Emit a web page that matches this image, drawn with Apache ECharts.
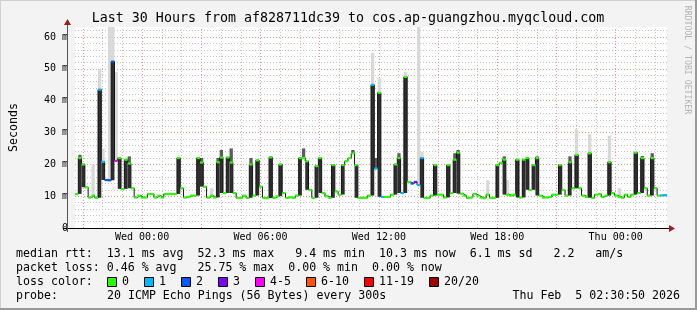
<!DOCTYPE html>
<html><head><meta charset="utf-8">
<script src="https://cdn.jsdelivr.net/npm/echarts@6/dist/echarts.min.js"></script>
<style>html,body{margin:0;padding:0;background:#f3f3f3}#c{width:697px;height:310px}</style>
</head><body><div id="c"></div>
<script>
// ---- data (10-minute samples starting Tue 20:36) ----
const STEP_MIN = 10;
const median = [
 10.7, 22, 20, 12.8, 9.6, 10.2, 9.5, 43.5, 20.8, 15.1, 15.0, 52.3, 21.1, 22, 12.3, 21.5, 20.3, 12.5, 9.6, 10.2, 9.6, 9.6, 10.7, 10.7, 9.6, 10.2, 9.6, 10.7, 10.7, 10.7,
 10.7, 22, 12.5, 9.6, 9.8, 10.2, 10.2, 22, 20.6, 13, 9.6, 10.2, 9.6, 20.7, 22.2, 11, 22.2, 20.6, 11, 9.5, 9.5, 10.2, 9.5, 20, 10.2, 21.3, 13, 9.5, 9.4, 22.2,
 9.5, 10, 20, 11, 9.5, 9.7, 9.5, 10.2, 22, 22, 21, 12, 9.5, 19.5, 22, 11, 10, 9.5, 19.8, 11.5, 10.5, 19.8, 21, 22, 23.5, 19.8, 9.5, 9.5, 9.5, 10.2,
 45, 18.7, 42.5, 9.8, 9.8, 9.8, 10.5, 20, 22, 11, 47.5, 14.5, 14, 14.5, 13.5, 22, 9.5, 9.5, 10.2, 19.8, 10.5, 10.5, 9.6, 19.8, 11, 21.5, 23.7, 10.8, 10.2, 9.5,
 9.6, 10.7, 10.2, 9.6, 9.4, 10.5, 9.5, 9.5, 19.8, 20.5, 21.5, 10.5, 10.2, 10.5, 21.5, 9.6, 21.5, 22, 12, 19.8, 22, 10.2, 9.6, 9.6, 9.8, 10.5, 10.5, 19.8, 12, 10.2,
 20.7, 12.5, 23, 12.5, 10.2, 9.8, 23.5, 9.5, 10.5, 10.7, 9.8, 10.2, 20.7, 11, 10.2, 9.8, 9.5, 10.5, 9.8, 10.5, 23.7, 11, 22, 12.5, 10.2, 22, 12.5, 10.2, 10.3, 10.3
];
// [sample index, lost pings out of 20]
const lossEvents = [[7,1],[8,1],[9,2],[10,2],[11,2],[12,5],[90,1],[91,1],[93,1],[99,1],[102,2],[103,3],[104,1],[105,1],[178,1],[179,1]];
// smoke: [sample index, highest rtt] - sparse outliers and dense spread
const smokeOutliers = [[5,20],[7,50],[8,25],[10,63.5],[11,63.5],[12,49],[41,12.5],[90,55],[92,47],[100,49],[104,63.5],[105,24],[125,15],[131,15],[152,31],[156,29.5],[162,29],[165,12.5]];
const smokeDense = [[1,23],[16,22.5],[38,22],[43,22],[44,24.5],[47,25],[53,22],[59,22.5],[69,25],[84,24.5],[91,22],[98,23.5],[115,23.5],[116,24.5],[130,22.5],[140,22.5],[150,22.5],[172,22.6],[175,23.5]];
const xTickMinutes = [204, 564, 924, 1284, 1644];
const xTickLabels = ['Wed 00:00', 'Wed 06:00', 'Wed 12:00', 'Wed 18:00', 'Thu 00:00'];
const lossLegend = ['0', '1', '2', '3', '4-5', '6-10', '11-19', '20/20'];
const lossColors = ['#26ff00', '#00b8ff', '#0059ff', '#7e00ff', '#ff00ff', '#ff5500', '#ff0000', '#a10000'];
const titleText = 'Last 30 Hours from af828711dc39 to cos.ap-guangzhou.myqcloud.com';
const statLines = [
  'median rtt:  13.1 ms avg  52.3 ms max   9.4 ms min  10.3 ms now  6.1 ms sd   2.2   am/s',
  'packet loss: 0.46 % avg   25.75 % max  0.00 % min  0.00 % now'
];
const probeText = '20 ICMP Echo Pings (56 Bytes) every 300s';
const dateText = 'Thu Feb  5 02:30:50 2026';

// ---- layout ----
const G = {left: 67, top: 27, right: 30, bottom: 82};
const W = 697, H = 310;
const Y_MAX = 63.15;
const X_MAX = median.length * STEP_MIN;
const MONO = '"DejaVu Sans Mono", monospace';

const N = median.length;
const t0 = i => i * STEP_MIN;
const lossByStep = new Array(N).fill(0);
lossEvents.forEach(([i, c]) => { lossByStep[i] = c; });
function bucket(c) { if (c === 0) return 0; if (c <= 3) return c; if (c <= 5) return 4; if (c <= 10) return 5; if (c < 20) return 6; return 7; }

const smokeData = [];
smokeOutliers.forEach(([i, top]) => smokeData.push([t0(i), t0(i + 1), median[i], Math.min(top, Y_MAX), 0]));
smokeDense.forEach(([i, top]) => smokeData.push([t0(i), t0(i + 1), median[i], Math.min(top, Y_MAX), 1]));
// spread of pings inside a sample where rtt jumps (drawn as dark smoke below the median)
median.forEach((v, i) => {
  const lo = Math.min(i > 0 ? median[i - 1] : v, i < N - 1 ? median[i + 1] : v);
  if (v - lo > 5) smokeData.push([t0(i), t0(i + 1), lo, v, 2]);
});

const segData = median.map((v, i) => [t0(i), t0(i + 1), v, bucket(lossByStep[i])]);
const lineData = median.map((v, i) => [t0(i), v]);
lineData.push([X_MAX, median[N - 1]]);

const gridMarks = [];
for (let m = 24; m < X_MAX; m += 60) {
  gridMarks.push({xAxis: m, lineStyle: {color: (m - 24) % 180 === 0 ? '#e39a9a' : '#c4c4c4', type: [1, 2], width: 1}});
}
for (let v = 2; v < Y_MAX; v += 2) {
  gridMarks.push({yAxis: v, lineStyle: {color: v % 10 === 0 ? '#e39a9a' : '#c4c4c4', type: [1, 2], width: 1}});
}

const graphics = [];
graphics.push({type: 'rect', shape: {x: 0, y: 0, width: W, height: 1}, style: {fill: '#d0d0d0'}});
graphics.push({type: 'rect', shape: {x: 0, y: 0, width: 1, height: H}, style: {fill: '#d0d0d0'}});
graphics.push({type: 'rect', shape: {x: 0, y: H - 2, width: W, height: 2}, style: {fill: '#9a9a9a'}});
graphics.push({type: 'rect', shape: {x: W - 2, y: 0, width: 2, height: H}, style: {fill: '#9a9a9a'}});
graphics.push({type: 'text', x: 348, y: 19, style: {text: titleText, font: '13.3px ' + MONO, fill: '#000', align: 'center', verticalAlign: 'middle'}});
graphics.push({type: 'text', x: 687, y: 60, rotation: -Math.PI / 2, style: {text: 'RRDTOOL / TOBI OETIKER', font: '8.2px ' + MONO, fill: '#b4b4b4', align: 'center', verticalAlign: 'middle'}});
const axY = H - G.bottom;
graphics.push({type: 'line', shape: {x1: G.left - 4, y1: axY + 0.5, x2: W - G.right + 3, y2: axY + 0.5}, style: {stroke: '#000', lineWidth: 1}, z: 10});
graphics.push({type: 'line', shape: {x1: G.left + 0.5, y1: axY + 4, x2: G.left + 0.5, y2: G.top - 6}, style: {stroke: '#555', lineWidth: 1}, z: 10});
graphics.push({type: 'polygon', shape: {points: [[W - G.right + 2, axY - 3], [W - G.right + 8, axY + 0.5], [W - G.right + 2, axY + 4]]}, style: {fill: '#9b1c1c'}, z: 10});
graphics.push({type: 'polygon', shape: {points: [[G.left - 3, G.top - 2], [G.left + 0.5, G.top - 8], [G.left + 4, G.top - 2]]}, style: {fill: '#9b1c1c'}, z: 10});
const LX = 16, LY = [254, 268, 282, 296];
statLines.forEach((s, k) => graphics.push({type: 'text', x: LX, y: LY[k], style: {text: s, font: '11.6px ' + MONO, fill: '#000', verticalAlign: 'middle'}}));
graphics.push({type: 'text', x: LX, y: LY[2], style: {text: 'loss color:', font: '11.6px ' + MONO, fill: '#000', verticalAlign: 'middle'}});
let sx = 107;
lossLegend.forEach((lab, k) => {
  graphics.push({type: 'rect', shape: {x: sx + 0.5, y: LY[2] - 4.5, width: 9, height: 9}, style: {fill: lossColors[k], stroke: '#000', lineWidth: 1}});
  graphics.push({type: 'text', x: sx + 15, y: LY[2], style: {text: lab, font: '11.6px ' + MONO, fill: '#000', verticalAlign: 'middle'}});
  sx += 30 + 7 * lab.length;
});
graphics.push({type: 'text', x: LX, y: LY[3], style: {text: 'probe:', font: '11.6px ' + MONO, fill: '#000', verticalAlign: 'middle'}});
graphics.push({type: 'text', x: 107, y: LY[3], style: {text: probeText, font: '11.6px ' + MONO, fill: '#000', verticalAlign: 'middle'}});
graphics.push({type: 'text', x: 680, y: LY[3], style: {text: dateText, font: '11.6px ' + MONO, fill: '#000', align: 'right', verticalAlign: 'middle'}});

const smokeFill = ['#d8d8d8', '#5c5c5c', '#2e2e2e'];
const chart = echarts.init(document.getElementById('c'));
chart.setOption({
  animation: false,
  backgroundColor: '#f3f3f3',
  grid: {left: G.left, right: G.right, top: G.top, bottom: G.bottom, show: true, backgroundColor: '#ffffff', borderWidth: 0},
  xAxis: {
    type: 'value', min: 0, max: X_MAX,
    axisLine: {show: false}, axisTick: {show: false}, splitLine: {show: false},
    axisLabel: {
      customValues: xTickMinutes,
      formatter: v => { const k = xTickMinutes.indexOf(v); return k >= 0 ? xTickLabels[k] : ''; },
      margin: 4, fontFamily: 'DejaVu Sans Mono', fontSize: 10, color: '#000'
    }
  },
  yAxis: {
    type: 'value', min: 0, max: Y_MAX, interval: 10,
    name: 'Seconds', nameLocation: 'middle', nameGap: 55, nameRotate: 90,
    nameTextStyle: {fontFamily: 'DejaVu Sans Mono', fontSize: 11.6, color: '#000'},
    axisLine: {show: false}, splitLine: {show: false}, axisTick: {show: false},
    axisLabel: {
      formatter: v => { const r = Math.round(v / 10) * 10; if (Math.abs(v - r) > 1e-6) return ''; return r === 0 ? '0' : r + ' m'; },
      margin: 7, fontFamily: 'DejaVu Sans Mono', fontSize: 10, color: '#000'
    }
  },
  graphic: graphics,
  series: [
    {
      type: 'line', data: [[0, 0]], symbol: 'none', lineStyle: {opacity: 0}, silent: true, z: 1,
      markLine: {silent: true, z: 1, symbol: ['none', 'none'], label: {show: false}, animation: false, data: gridMarks}
    },
    {
      type: 'custom', z: 2, silent: true, data: smokeData, encode: {x: [0, 1], y: [2, 3]},
      renderItem: (p, api) => {
        const a = api.coord([api.value(0), api.value(3)]);
        const b = api.coord([api.value(1), api.value(2)]);
        return {type: 'rect', shape: {x: a[0], y: a[1], width: b[0] - a[0], height: b[1] - a[1]}, style: {fill: smokeFill[api.value(4)]}};
      }
    },
    {
      type: 'line', z: 3, data: lineData, step: 'end', symbol: 'none', silent: true,
      lineStyle: {color: '#141414', width: 1}
    },
    {
      type: 'custom', z: 4, silent: true, data: segData, encode: {x: [0, 1], y: 2},
      renderItem: (p, api) => {
        const a = api.coord([api.value(0), api.value(2)]);
        const b = api.coord([api.value(1), api.value(2)]);
        return {type: 'rect', shape: {x: a[0], y: a[1] - 1, width: b[0] - a[0], height: 2.2}, style: {fill: lossColors[api.value(3)]}};
      }
    }
  ]
});
</script>
</body></html>
